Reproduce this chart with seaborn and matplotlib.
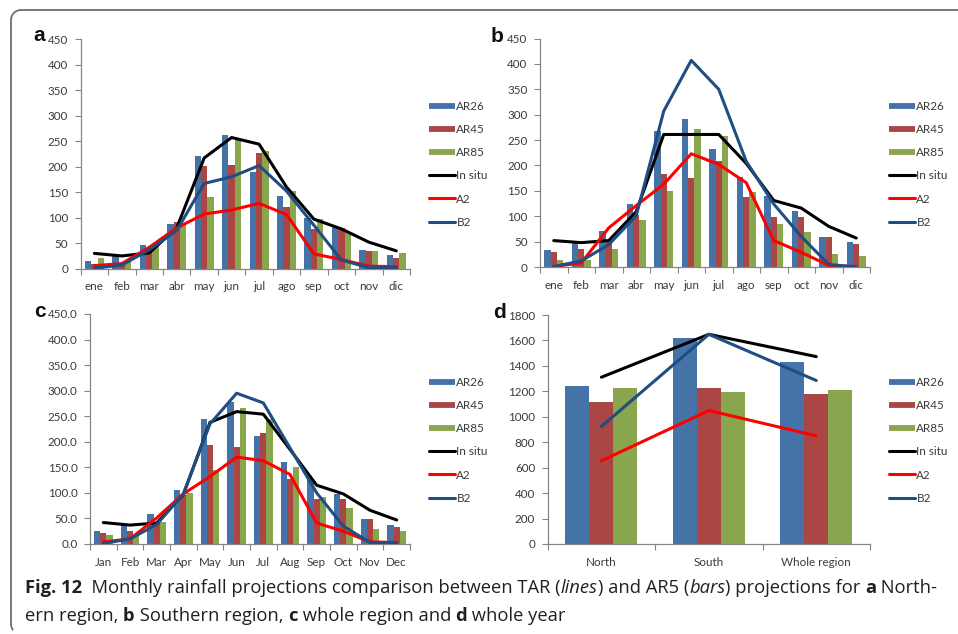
import numpy as np
import pandas as pd
import matplotlib
matplotlib.use("Agg")
import matplotlib.pyplot as plt
from matplotlib.lines import Line2D
from matplotlib.patches import Arc
from matplotlib import font_manager
import seaborn as sns

# ---------------------------------------------------------------- data
MONTHS_ES = ["ene", "feb", "mar", "abr", "may", "jun", "jul", "ago", "sep", "oct", "nov", "dic"]
MONTHS_EN = ["Jan", "Feb", "Mar", "Apr", "May", "Jun", "Jul", "Aug", "Sep", "Oct", "Nov", "Dec"]
REGIONS = ["North", "South", "Whole region"]

BAR_NAMES = ["AR26", "AR45", "AR85"]
LINE_NAMES = ["In situ", "A2", "B2"]

# (a) Northern region, monthly rainfall (mm)
north_ar26 = [16, 25, 46, 88, 220, 261, 190, 142, 99, 83, 36, 27]
north_ar45 = [10, 9, 37, 92, 202, 204, 226, 120, 78, 79, 35, 21]
north_ar85 = [21, 14, 44, 88, 141, 252, 231, 153, 98, 72, 35, 31]
north_insitu = [30, 25, 31, 80, 217, 257, 244, 160, 97, 78, 52, 35]
north_a2 = [6, 10, 42, 80, 107, 115, 128, 106, 29, 18, 5, 4]
north_b2 = [1, 7, 37, 75, 167, 180, 202, 152, 85, 17, 2, 2]

# (b) Southern region
south_ar26 = [34, 52, 71, 124, 268, 292, 232, 178, 139, 111, 60, 50]
south_ar45 = [30, 36, 54, 102, 183, 175, 208, 137, 98, 98, 59, 46]
south_ar85 = [13, 14, 36, 92, 149, 272, 258, 147, 85, 68, 25, 21]
south_insitu = [52, 48, 52, 109, 261, 261, 261, 204, 131, 116, 80, 57]
south_a2 = [1, 8, 77, 121, 163, 223, 202, 166, 52, 29, 3, 1]
south_b2 = [1, 12, 44, 101, 307, 407, 350, 208, 124, 60, 5, 0]

# (c) Whole region
whole_ar26 = [26, 39, 59, 106, 245, 277, 211, 160, 127, 97, 49, 38]
whole_ar45 = [21, 25, 42, 96, 193, 190, 217, 127, 89, 89, 48, 33]
whole_ar85 = [18, 18, 44, 100, 145, 266, 245, 151, 92, 70, 29, 26]
whole_insitu = [42, 37, 41, 97, 238, 259, 254, 185, 115, 98, 66, 47]
whole_a2 = [4, 10, 51, 98, 132, 170, 163, 136, 41, 25, 4, 3]
whole_b2 = [1, 10, 38, 98, 235, 295, 276, 188, 100, 35, 3, 2]

# (d) Annual totals
year_ar26 = [1245, 1620, 1434]
year_ar45 = [1117, 1230, 1177]
year_ar85 = [1224, 1193, 1209]
year_insitu = [1311, 1648, 1473]
year_a2 = [654, 1049, 850]
year_b2 = [924, 1648, 1285]

# ---------------------------------------------------------------- style
BAR_COLORS = ["#4572A7", "#AA4643", "#89A54E"]
LINE_COLORS = ["#000000", "#FF0000", "#1F4E82"]
AXIS_GREY = "#868686"
TICK_TEXT = "#3a3a3a"
TICK_SIZE = 8.4

sns.set_theme(style="white")
plt.rcParams["font.family"] = ["Lato", "DejaVu Sans"]

available = {f.name for f in font_manager.fontManager.ttflist}
CAPTION_FONT = ["Liberation Sans Narrow"] if "Liberation Sans Narrow" in available else ["Open Sans"]

W, H = 958, 634
fig = plt.figure(figsize=(W / 100, H / 100), dpi=100)
fig.patch.set_facecolor("white")


def rect(left, right, y_zero, y_top):
    return [left / W, 1 - y_zero / H, (right - left) / W, (y_zero - y_top) / H]


def panel(ax, cats, bars, lines, ymax, ystep, yfmt, width, legend_xy, tag, tag_xy):
    n = len(cats)
    df = pd.DataFrame({
        "category": np.tile(cats, len(BAR_NAMES)),
        "series": np.repeat(BAR_NAMES, n),
        "value": np.concatenate(bars),
    })
    sns.barplot(data=df, x="category", y="value", hue="series", order=cats,
                hue_order=BAR_NAMES, palette=BAR_COLORS, saturation=1,
                width=width, errorbar=None, legend=False, linewidth=0, ax=ax)
    pos = np.arange(n)
    for vals, col in zip(lines, LINE_COLORS):
        sns.lineplot(x=pos, y=vals, color=col, lw=2.2, legend=False, ax=ax,
                     zorder=5, solid_joinstyle="round")

    ax.set_xlim(-0.5, n - 0.5)
    ax.set_ylim(0, ymax)
    ax.set_yticks(np.arange(0, ymax + ystep / 2, ystep))
    ax.yaxis.set_major_formatter(plt.FuncFormatter(lambda v, p: yfmt.format(v)))
    ax.set_xticks(pos)
    ax.set_xticklabels(cats)
    ax.set_xticks(np.arange(-0.5, n), minor=True)
    ax.set_xlabel("")
    ax.set_ylabel("")

    ax.tick_params(axis="x", which="major", length=0, pad=9, labelsize=TICK_SIZE,
                   labelcolor=TICK_TEXT)
    ax.tick_params(axis="x", which="minor", length=4, width=0.8, color=AXIS_GREY,
                   direction="out", bottom=True)
    ax.tick_params(axis="y", which="major", length=4, width=0.8, color=AXIS_GREY,
                   direction="out", left=True, pad=5, labelsize=TICK_SIZE,
                   labelcolor=TICK_TEXT)
    for side in ("top", "right"):
        ax.spines[side].set_visible(False)
    for side in ("left", "bottom"):
        ax.spines[side].set_color(AXIS_GREY)
        ax.spines[side].set_linewidth(0.9)
    ax.grid(False)
    ax.set_facecolor("white")

    handles = [Line2D([], [], color=c, lw=4.2, solid_capstyle="butt") for c in BAR_COLORS]
    handles += [Line2D([], [], color=c, lw=2.2) for c in LINE_COLORS]
    leg = ax.legend(handles, BAR_NAMES + LINE_NAMES, loc="upper left",
                    bbox_to_anchor=(legend_xy[0] / W, 1 - legend_xy[1] / H),
                    bbox_transform=fig.transFigure, frameon=False, fontsize=8.4,
                    handlelength=2.2, handletextpad=0.15, labelspacing=1.04,
                    borderpad=0, borderaxespad=0)
    for t in leg.get_texts():
        t.set_color(TICK_TEXT)

    fig.text(tag_xy[0] / W, 1 - tag_xy[1] / H, tag, fontsize=15, fontweight="bold",
             family=["Liberation Sans", "DejaVu Sans"], ha="left", va="baseline",
             color="#111111")


ax_a = fig.add_axes(rect(80.7, 410, 268.7, 39))
panel(ax_a, MONTHS_ES,
      [north_ar26, north_ar45, north_ar85], [north_insitu, north_a2, north_b2],
      450, 50, "{:.0f}", 0.69, (429, 101), "a", (33, 41))

ax_b = fig.add_axes(rect(540, 870, 267, 38.5))
panel(ax_b, MONTHS_ES,
      [south_ar26, south_ar45, south_ar85], [south_insitu, south_a2, south_b2],
      450, 50, "{:.0f}", 0.69, (889, 101), "b", (491, 42))

ax_c = fig.add_axes(rect(90, 410, 544, 314))
panel(ax_c, MONTHS_EN,
      [whole_ar26, whole_ar45, whole_ar85], [whole_insitu, whole_a2, whole_b2],
      450, 50, "{:.1f}", 0.69, (429, 377), "c", (34, 317))

ax_d = fig.add_axes(rect(547.7, 870, 544, 315))
panel(ax_d, REGIONS,
      [year_ar26, year_ar45, year_ar85], [year_insitu, year_a2, year_b2],
      1800, 200, "{:.0f}", 0.67, (889, 377), "d", (493, 318))

# ---------------------------------------------------------------- caption
renderer = fig.canvas.get_renderer()
CAPTION_COLOR = "#231f20"
CAPTION_SIZE = 13.2


def text_width(s, **kw):
    probe = fig.text(0, 0, "|" + s + "|", **kw)
    ref = fig.text(0, 0, "||", **kw)
    w = probe.get_window_extent(renderer).width - ref.get_window_extent(renderer).width
    probe.remove()
    ref.remove()
    return w


def caption_line(x_px, baseline_px, runs):
    x = x_px
    for s, weight, style in runs:
        kw = dict(fontsize=CAPTION_SIZE, fontweight=weight, fontstyle=style,
                  family=CAPTION_FONT, color=CAPTION_COLOR)
        fig.text(x / W, 1 - baseline_px / H, s, ha="left", va="baseline", **kw)
        x += text_width(s, **kw)


caption_line(25, 593, [
    ("Fig. 12", "bold", "normal"),
    ("  Monthly rainfall projections comparison between TAR (", "normal", "normal"),
    ("lines", "normal", "italic"),
    (") and AR5 (", "normal", "normal"),
    ("bars", "normal", "italic"),
    (") projections for ", "normal", "normal"),
    ("a", "bold", "normal"),
    (" North-", "normal", "normal"),
])
caption_line(25, 621, [
    ("ern region, ", "normal", "normal"),
    ("b", "bold", "normal"),
    (" Southern region, ", "normal", "normal"),
    ("c", "bold", "normal"),
    (" whole region and ", "normal", "normal"),
    ("d", "bold", "normal"),
    (" whole year", "normal", "normal"),
])

# ---------------------------------------------------------------- frame
FRAME = "#707070"
r = 10
fig.add_artist(Line2D([(11 + r) / W, 1.0], [1 - 10 / H] * 2, color=FRAME, lw=1.3,
                      transform=fig.transFigure))
fig.add_artist(Line2D([11 / W] * 2, [1 - (10 + r) / H, 1 - (634 - r) / H], color=FRAME,
                      lw=1.3, transform=fig.transFigure))
fig.add_artist(Arc(((11 + r) / W, 1 - (10 + r) / H), 2 * r / W, 2 * r / H,
                   theta1=90, theta2=180, color=FRAME, lw=1.3, transform=fig.transFigure))
fig.add_artist(Arc(((11 + r) / W, 1 - (634 - r) / H), 2 * r / W, 2 * r / H,
                   theta1=180, theta2=230, color=FRAME, lw=1.3, transform=fig.transFigure))

fig.savefig("out.png", dpi=100, facecolor="white")
